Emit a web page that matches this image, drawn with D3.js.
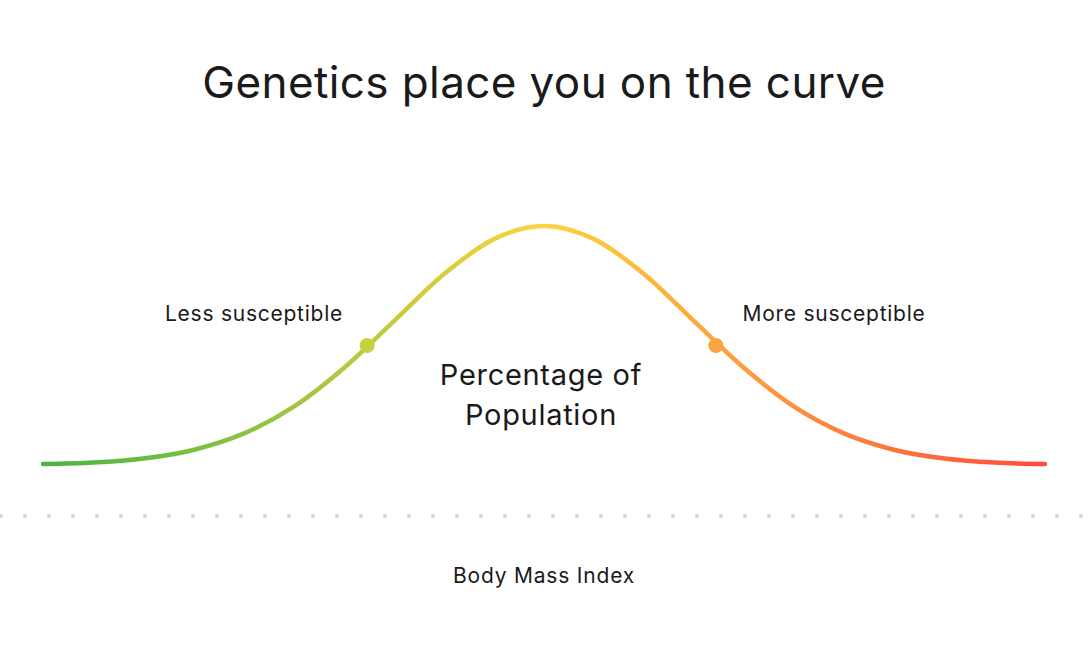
<!DOCTYPE html>
<html><head><meta charset="utf-8">
<script src="https://cdn.jsdelivr.net/npm/d3@7"></script>
<style>html,body{margin:0;padding:0;background:#fff;}</style>
</head><body>
<script>
const title = "Genetics place you on the curve";
const xLabel = "Body Mass Index";
const yLabel = ["Percentage of", "Population"];
const positions = [0,1,2,3,4,5,6,7,8,9,10,11,12,13,14,15,16,17,18,19,20];
const population = [0.4,1.0,2.7,6.3,13.1,24.3,40.5,60.1,79.8,94.5,100,94.5,79.8,60.1,40.5,24.3,13.1,6.3,2.7,1.0,0.4];
const markerPos = [6.47, 13.43];
const markerVal = [50, 50];
const markerLabels = ["Less susceptible", "More susceptible"];
const markerColors = ["#c3d23f", "#fca43d"];

const W = 1088, H = 647;
const svg = d3.select("body").append("svg").attr("width", W).attr("height", H)
  .style("font-family", "Inter, 'Noto Sans', sans-serif");

const x = d3.scaleLinear().domain([0, 20]).range([43, 1045]);
const y = d3.scaleLinear().domain([0, 100]).range([465, 226]);

const grad = svg.append("defs").append("linearGradient").attr("id", "g")
  .attr("gradientUnits", "userSpaceOnUse").attr("x1", x(0)).attr("x2", x(20)).attr("y1", 0).attr("y2", 0);
grad.append("stop").attr("offset", "0%").attr("stop-color", "#46b546");
grad.append("stop").attr("offset", "50%").attr("stop-color", "#fcd43c");
grad.append("stop").attr("offset", "100%").attr("stop-color", "#ff4a3c");

svg.append("text").attr("x", 544).attr("y", 98).attr("text-anchor", "middle")
  .attr("font-size", 44).attr("letter-spacing", 0.4).attr("fill", "#1a1a1a").text(title);

// dotted baseline
const dots = d3.range(1, W, 24);
svg.append("g").selectAll("circle").data(dots).join("circle")
  .attr("cx", d => d).attr("cy", 516).attr("r", 2).attr("fill", "#d3d3d3");

const line = d3.line().x((d, i) => x(positions[i])).y(d => y(d)).curve(d3.curveMonotoneX);
svg.append("path").datum(population).attr("d", line).attr("fill", "none")
  .attr("stroke", "url(#g)").attr("stroke-width", 4.5).attr("stroke-linecap", "round");

svg.append("g").selectAll("circle").data(markerPos).join("circle")
  .attr("cx", d => x(d)).attr("cy", (d, i) => y(markerVal[i])).attr("r", 7.5)
  .attr("fill", (d, i) => markerColors[i]);

const labX = [254, 834];
svg.append("g").selectAll("text").data(markerLabels).join("text")
  .attr("x", (d, i) => labX[i]).attr("y", 321).attr("text-anchor", "middle")
  .attr("font-size", 21).attr("letter-spacing", 0.75).attr("fill", "#1a1a1a").text(d => d);

svg.append("g").selectAll("text").data(yLabel).join("text")
  .attr("x", 541).attr("y", (d, i) => 385 + i * 40).attr("text-anchor", "middle")
  .attr("font-size", 29).attr("letter-spacing", 0.7).attr("fill", "#1a1a1a").text(d => d);

svg.append("text").attr("x", 544).attr("y", 583).attr("text-anchor", "middle")
  .attr("font-size", 21).attr("letter-spacing", 0.8).attr("fill", "#1a1a1a").text(xLabel);
</script>
</body></html>
